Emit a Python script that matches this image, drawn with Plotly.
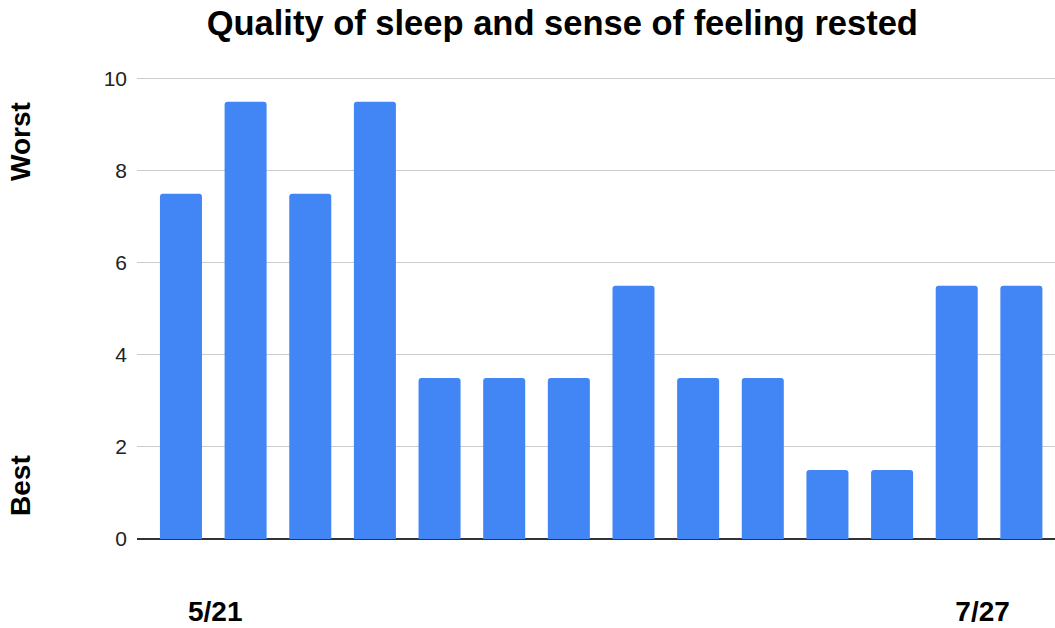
import plotly.graph_objects as go

# Sleep-quality ratings, one bar per check-in (higher = worse)
ratings = [7.5, 9.5, 7.5, 9.5, 3.5, 3.5, 3.5, 5.5, 3.5, 3.5, 1.5, 1.5, 5.5, 5.5]
positions = list(range(len(ratings)))

# Date labels shown under the axis
date_labels = ["5/21", "7/27"]
date_label_pos = [0.53, 12.40]

y_ticks = [0, 2, 4, 6, 8, 10]

bar_color = "#4285F4"
font_family = "Arial, Liberation Sans, sans-serif"

fig = go.Figure(
    go.Bar(
        x=positions,
        y=ratings,
        width=0.65,
        marker=dict(color=bar_color, line=dict(width=0)),
        hoverinfo="y",
    )
)

plot_h = 628 - 76 - 89

fig.update_layout(
    width=1055,
    height=628,
    margin=dict(l=137, r=0, t=76, b=89),
    paper_bgcolor="white",
    plot_bgcolor="white",
    showlegend=False,
    barcornerradius=3,
    font=dict(family=font_family, color="#222"),
    title=dict(
        text="<b>Quality of sleep and sense of feeling rested</b>",
        x=0.533,
        xanchor="center",
        y=0.963,
        yanchor="middle",
        font=dict(size=34.5, color="#000", family=font_family),
    ),
    xaxis=dict(
        range=[-0.68, 13.52],
        tickmode="array",
        tickvals=date_label_pos,
        ticktext=[f"<b>{t}</b>" for t in date_labels],
        tickfont=dict(size=28, color="#000"),
        ticks="",
        ticklabelstandoff=53,
        showgrid=False,
        zeroline=False,
        showline=False,
        automargin=False,
        fixedrange=True,
    ),
    yaxis=dict(
        range=[0, 10.06],
        tickmode="array",
        tickvals=y_ticks,
        tickfont=dict(size=21, color="#222"),
        ticks="",
        ticklabelstandoff=9,
        showgrid=True,
        gridcolor="#cccccc",
        gridwidth=1,
        zeroline=True,
        zerolinecolor="#333333",
        zerolinewidth=1.5,
        showline=False,
        automargin=False,
        fixedrange=True,
    ),
    annotations=[
        dict(
            text="<b>Worst</b>",
            xref="paper", yref="paper",
            x=-0.1275, y=(539 - 141) / plot_h,
            xanchor="center", yanchor="middle",
            textangle=-90, showarrow=False,
            font=dict(size=28, color="#000"),
        ),
        dict(
            text="<b>Best</b>",
            xref="paper", yref="paper",
            x=-0.1275, y=(539 - 485) / plot_h,
            xanchor="center", yanchor="middle",
            textangle=-90, showarrow=False,
            font=dict(size=28, color="#000"),
        ),
    ],
)

fig.write_html("out.html")
